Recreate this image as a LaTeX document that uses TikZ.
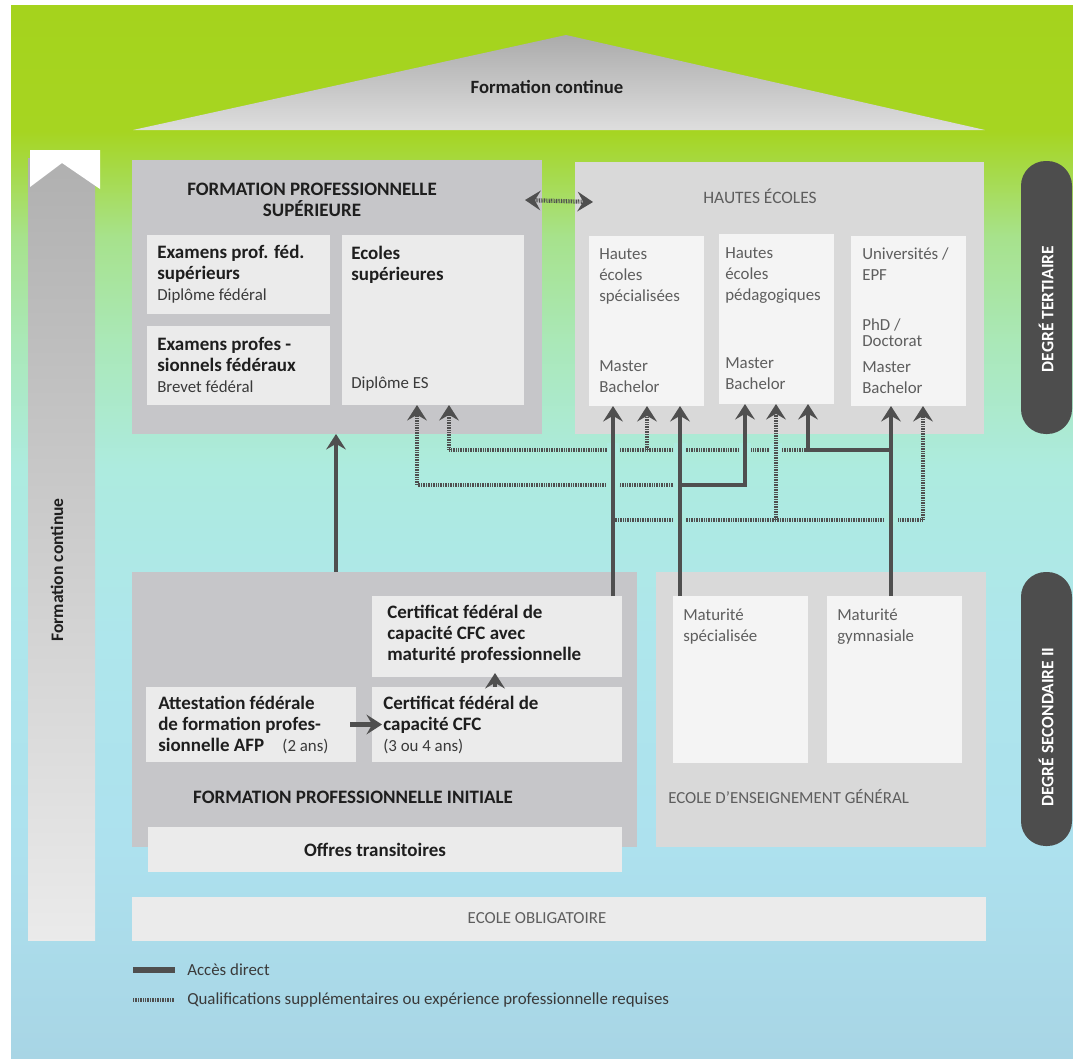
\documentclass[tikz,border=0pt]{standalone}
\usepackage{fontspec}
\setmainfont{Carlito}
\usepackage{xcolor}
\usepackage{tikz}
\usetikzlibrary{shapes,arrows,positioning,calc,fit,arrows.meta}

\definecolor{bgG}{HTML}{A5D31D}
\definecolor{bgGb}{HTML}{A6D521}
\definecolor{bgA}{HTML}{A7E28C}
\definecolor{bgB}{HTML}{AAE8B8}
\definecolor{bgC}{HTML}{ADEBDF}
\definecolor{bgD}{HTML}{AEE6EC}
\definecolor{bgE}{HTML}{ADE1EE}
\definecolor{bgF}{HTML}{A8D5E5}
\definecolor{fpsgray}{HTML}{C6C6C9}
\definecolor{hegray}{HTML}{D9D9D9}
\definecolor{lightbox}{HTML}{EBEBEB}
\definecolor{whitebox}{HTML}{F4F4F4}
\definecolor{pillgray}{HTML}{4D4D4D}
\definecolor{arrowgray}{HTML}{4F4F4F}
\definecolor{txtdark}{HTML}{1E1E1E}
\definecolor{txtmid}{HTML}{3A3A3A}
\definecolor{txtgray}{HTML}{5E5E5E}

\pgfdeclareverticalshading{skyshade}{100bp}{color(0bp)=(bgF); color(25bp)=(bgF); color(35bp)=(bgE); color(45bp)=(bgD); color(53bp)=(bgC); color(59bp)=(bgB); color(64bp)=(bgA); color(69bp)=(bgGb); color(75bp)=(bgG); color(100bp)=(bgG)}

\tikzset{
  panel/.style={fill=#1, inner sep=0pt, outer sep=0pt},
  bt/.style={font=\fontsize{13.5}{15}\selectfont\bfseries, text=txtdark, align=left, inner sep=0pt, anchor=north west},
  lt/.style={font=\fontsize{12}{15}\selectfont, text=txtgray, align=left, inner sep=0pt, anchor=north west},
  pill/.style={fill=pillgray, rounded corners=0.62cm, inner sep=0pt},
  pilltext/.style={font=\fontsize{12.4}{14}\selectfont\bfseries, text=white, rotate=90},
  acces/.style={draw=arrowgray, line width=3.2pt},
  qualif/.style={draw=arrowgray, line width=3pt, dash pattern=on 0.6pt off 0.6pt},
  headup/.style={-{Stealth[length=11pt,width=14pt,inset=4pt]}},
  gap/.style={draw=bgC, line width=9pt}
}

\begin{document}
\begin{tikzpicture}[x=0.025cm, y=-0.025cm]
    \useasboundingbox (0,0) rectangle (1073,1059);
    \fill[white] (0,0) rectangle (1073,1059);
    \shade[shading=skyshade] (11,5) rectangle (1073,1059);

    % Toit: formation continue
    \shade[top color=black!33, bottom color=black!13] (133,130) -- (566,35) -- (985,130) -- cycle;
    \node[font=\fontsize{13.3}{14}\selectfont\bfseries, text=txtdark] (roof) at (547,87) {Formation continue};

    % Colonne de gauche
    \shade[top color=black!31, bottom color=black!8] (28,158) rectangle (95,940);
    \fill[white] (30,150) -- (100,150) -- (100,189) -- (62,163) -- (30,187) -- cycle;
    \node[font=\fontsize{12.5}{14}\selectfont\bfseries, text=txtdark, rotate=90] (fcol) at (57,570) {Formation continue};

    % Formation professionnelle superieure
    \node[panel=fpsgray, fit={(132,160) (542,434)}] (fps) {};
    \node[bt, anchor=center, align=center] (fpstitle) at (312,200) {FORMATION PROFESSIONNELLE\\SUPÉRIEURE};
    \node[panel=lightbox, fit={(147,235) (330,314)}] (epfs) {};
    \node[panel=lightbox, fit={(147,326) (330,405)}] (epf) {};
    \node[panel=lightbox, fit={(342,235) (524,405)}] (ecsup) {};
    \node[bt] (epfs-t) at (157,243) {\strut Examens prof. féd.\\supérieurs\\{\mdseries\fontsize{12}{15}\selectfont\color{txtmid}Diplôme fédéral}};
    \node[bt] (epf-t) at (157,335) {\strut Examens profes -\\sionnels fédéraux\\{\mdseries\fontsize{12}{15}\selectfont\color{txtmid}Brevet fédéral}};
    \node[bt] (ecsup-t) at (351,244) {\strut Ecoles\\supérieures};
    \node[lt, text=txtmid] (ecsup-d) at (351,373) {\strut Diplôme ES};

    % Hautes ecoles
    \node[panel=hegray, fit={(575,162) (984,434)}] (he) {};
    \node[font=\fontsize{12.4}{14}\selectfont, text=txtgray] (hetitle) at (760,196) {HAUTES ÉCOLES};
    \node[panel=whitebox, fit={(589,236) (704,406)}] (hes) {};
    \node[panel=whitebox, fit={(719,234) (834,404)}] (hep) {};
    \node[panel=whitebox, fit={(851,236) (966,406)}] (univ) {};
    \node[lt] (hes-t) at (599,244) {\strut Hautes\\écoles\\spécialisées};
    \node[lt] (hes-d) at (599,356) {\strut Master\\Bachelor};
    \node[lt] (hep-t) at (725,243) {\strut Hautes\\écoles\\pédagogiques};
    \node[lt] (hep-d) at (725,353) {\strut Master\\Bachelor};
    \node[lt] (univ-t) at (862,244) {\strut Universités /\\EPF};
    \node[lt, font=\fontsize{12}{12}\selectfont] (univ-p) at (862,318) {\strut PhD /\\Doctorat};
    \node[lt] (univ-d) at (862,357) {\strut Master\\Bachelor};

    % Formation professionnelle initiale
    \node[panel=fpsgray, fit={(132,572) (637,847)}] (fpi) {};
    \node[panel=lightbox, fit={(372,596) (622,677)}] (cfcmp) {};
    \node[panel=lightbox, fit={(372,687) (622,762)}] (cfc) {};
    \node[panel=lightbox, fit={(146,687) (356,762)}] (afp) {};
    \node[bt] (cfcmp-t) at (387,603) {\strut Certificat fédéral de\\capacité CFC avec\\maturité professionnelle};
    \node[bt] (cfc-t) at (383,694) {\strut Certificat fédéral de\\capacité CFC\\{\mdseries\fontsize{12}{15}\selectfont\color{txtmid}(3 ou 4 ans)}};
    \node[bt] (afp-t) at (158,694) {\strut Attestation fédérale\\de formation profes-\\sionnelle AFP\hspace{13pt}{\mdseries\fontsize{12}{15}\selectfont\color{txtmid}(2 ans)}};
    \node[bt, anchor=center] (fpititle) at (353,797) {FORMATION PROFESSIONNELLE INITIALE};
    \node[panel=lightbox, fit={(148,827) (622,872)}] (offres) {};
    \node[bt, anchor=center] (offres-t) at (375,850) {Offres transitoires};

    % Ecole d'enseignement general
    \node[panel=hegray, fit={(656,572) (986,847)}] (eeg) {};
    \node[panel=whitebox, fit={(673,596) (808,763)}] (matspec) {};
    \node[panel=whitebox, fit={(827,596) (962,763)}] (matgym) {};
    \node[lt] (matspec-t) at (683,605) {\strut Maturité\\spécialisée};
    \node[lt] (matgym-t) at (837,605) {\strut Maturité\\gymnasiale};
    \node[lt, anchor=west] (eeg-t) at (668,797) {ECOLE D’ENSEIGNEMENT GÉNÉRAL};

    % Ecole obligatoire
    \node[panel=lightbox, fit={(132,897) (986,941)}] (oblig) {};
    \node[lt, anchor=center] (oblig-t) at (537,918) {ECOLE OBLIGATOIRE};

    % Degres
    \node[pill, fit={(1021,161) (1072,434)}] (tert) {};
    \node[pilltext] (tert-t) at (1046,309) {DEGRÉ TERTIAIRE};
    \node[pill, fit={(1021,572) (1072,846)}] (sec) {};
    \node[pilltext] (sec-t) at (1046,727) {DEGRÉ SECONDAIRE II};

    % Jonctions
    \coordinate (jspec) at (680,485);
    \coordinate (jgym) at (891,450);
    \coordinate (jmp) at (613,520);

    % Qualifications supplementaires
    \draw[qualif, headup] (jspec) -- (417,485) -- (ecsup.south -| 417,0);
    \draw[qualif, headup] (808,450) -- (449,450) -- (ecsup.south -| 449,0);
    \draw[qualif, headup] (jmp) -- (923,520) -- (univ.south -| 923,0);
    \foreach \gx/\gy in {613/450, 613/485, 680/450, 680/485, 680/520, 745/450, 776/450, 891/520}
        \draw[gap] (\gx,\gy-7) -- (\gx,\gy+7);
    \draw[qualif, headup] (647,450) -- (hes.south -| 647,0);
    \draw[qualif, headup] (776,520) -- (hep.south -| 776,0);
    \draw[qualif, {Stealth[length=11pt,width=14pt,inset=4pt]}-{Stealth[length=11pt,width=14pt,inset=4pt]}] ([shift={(-17,40)}]fps.north east) -- ([shift={(18,40)}]he.north west);

    % Acces direct
    \draw[acces, headup] (fpi.north -| 336,0) -- (fps.south -| 336,0);
    \draw[acces, headup] (cfcmp.north -| 613,0) -- (hes.south -| 613,0);
    \draw[acces, headup] (matspec.north -| 680,0) -- (hes.south -| 680,0);
    \draw[acces, headup] (jspec) -- (745,485) -- (hep.south -| 745,0);
    \draw[acces, headup] (matgym.north -| 891,0) -- (univ.south -| 891,0);
    \draw[acces, headup] (jgym) -- (808,450) -- (hep.south -| 808,0);
    \draw[acces, headup] ([xshift=-0.15cm]afp.east) -- ([xshift=0.25cm]cfc.west);
    \draw[acces, headup] (cfc.north -| 495,0) -- ([yshift=0.1cm]cfcmp.south -| 495,0);

    % Legende
    \coordinate (lg1a) at (133,970);
    \coordinate (lg1b) at (175,970);
    \coordinate (lg2a) at (133,1000);
    \coordinate (lg2b) at (175,1000);
    \draw[acces, line width=3.8pt] (lg1a) -- (lg1b);
    \draw[qualif, line width=2.4pt] (lg2a) -- (lg2b);
    \node[lt, anchor=west, text=txtmid] (lg1-t) at (187,970) {Accès direct};
    \node[lt, anchor=west, text=txtmid] (lg2-t) at (187,1000) {Qualifications supplémentaires ou expérience professionnelle requises};
\end{tikzpicture}
\end{document}
